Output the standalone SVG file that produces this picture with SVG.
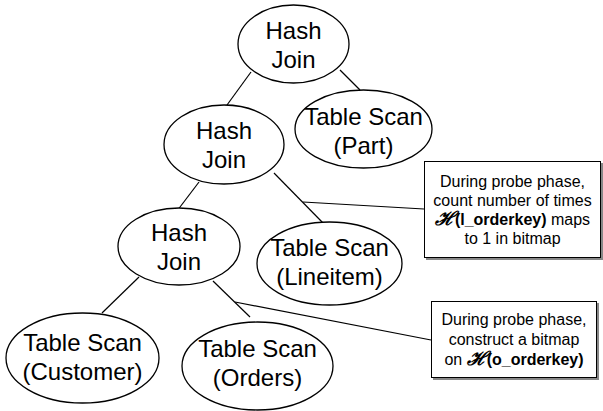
<svg xmlns="http://www.w3.org/2000/svg" width="603" height="411" viewBox="0 0 603 411">
<style>
.n ellipse{fill:#fff;stroke:#000;stroke-width:1.3}
.n text{font-family:"Liberation Sans",Arial,sans-serif;font-size:24px;text-anchor:middle;fill:#000}
.c line{stroke:#000;stroke-width:1.2}
.box rect.s{fill:#888;stroke:none}
.box rect.b{fill:#fff;stroke:#000;stroke-width:1}
.box text{font-family:"Liberation Sans",Arial,sans-serif;font-size:16px;text-anchor:middle;fill:#000}
.bold{font-weight:bold}
.sym{font-family:"DejaVu Serif",serif;font-style:italic;font-weight:bold;font-size:19px}
</style>
<rect width="603" height="411" fill="#fff"/>
<g class="c" id="connectors">
<line x1="251" y1="72" x2="227" y2="105"/>
<line x1="340" y1="70" x2="360" y2="90"/>
<line x1="274" y1="173" x2="323" y2="223"/>
<line x1="199" y1="182" x2="177" y2="211"/>
<line x1="139" y1="277" x2="102" y2="313"/>
<line x1="213" y1="281" x2="250" y2="317"/>
<line x1="303" y1="202" x2="424" y2="209"/>
<line x1="235" y1="302" x2="431" y2="340"/>
</g>
<g class="n" id="hj-top"><ellipse cx="293.5" cy="44" rx="55.5" ry="39"/><text x="293.5" y="39">Hash</text><text x="293.5" y="68">Join</text></g>
<g class="n" id="ts-part"><ellipse cx="363.5" cy="129" rx="68.5" ry="39"/><text x="363.5" y="125">Table Scan</text><text x="363.5" y="154">(Part)</text></g>
<g class="n" id="hj-mid"><ellipse cx="224" cy="144.5" rx="60" ry="39.5"/><text x="224" y="139">Hash</text><text x="224" y="168">Join</text></g>
<g class="n" id="ts-lineitem"><ellipse cx="329.5" cy="263.5" rx="72.5" ry="41.5"/><text x="329.5" y="256">Table Scan</text><text x="329.5" y="285">(Lineitem)</text></g>
<g class="n" id="hj-bot"><ellipse cx="179" cy="246.5" rx="61" ry="38.5"/><text x="179" y="241">Hash</text><text x="179" y="270">Join</text></g>
<g class="n" id="ts-customer"><ellipse cx="82.5" cy="358" rx="76.5" ry="45"/><text x="82.5" y="351">Table Scan</text><text x="82.5" y="380">(Customer)</text></g>
<g class="n" id="ts-orders"><ellipse cx="257.5" cy="366" rx="75.5" ry="44"/><text x="257.5" y="357">Table Scan</text><text x="257.5" y="386">(Orders)</text></g>
<g class="box" id="note1">
<rect class="s" x="426" y="163" width="177" height="97"/>
<rect class="b" x="424.5" y="161.5" width="176" height="96"/>
<text x="512.5" y="187">During probe phase,</text>
<text x="512.5" y="206">count number of times</text>
<text x="512.5" y="225"><tspan class="sym">ℋ</tspan><tspan class="bold">(l_orderkey)</tspan> maps</text>
<text x="512.5" y="244">to 1 in bitmap</text>
</g>
<g class="box" id="note2">
<rect class="s" x="433" y="303" width="166" height="77"/>
<rect class="b" x="431.5" y="301.5" width="165" height="76"/>
<text x="514" y="325">During probe phase,</text>
<text x="514" y="345">construct a bitmap</text>
<text x="514" y="365">on <tspan class="sym">ℋ</tspan><tspan class="bold">(o_orderkey)</tspan></text>
</g>
</svg>
